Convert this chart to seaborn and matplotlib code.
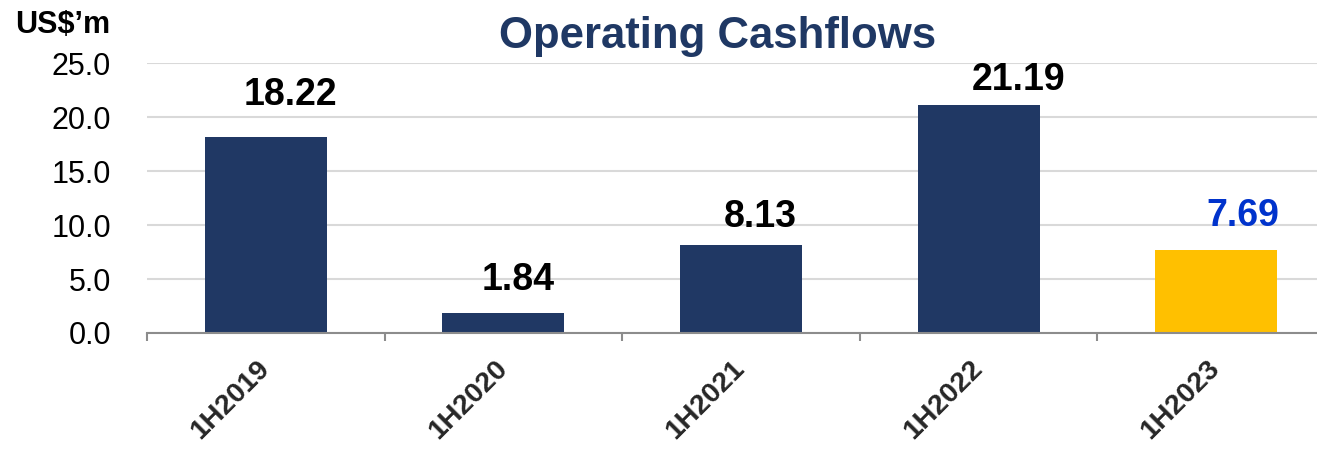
import matplotlib
matplotlib.use("Agg")
import matplotlib.pyplot as plt
import seaborn as sns
import pandas as pd
from matplotlib.ticker import FixedLocator

# ---- data ----
periods = ["1H2019", "1H2020", "1H2021", "1H2022", "1H2023"]
cashflows = [18.22, 1.84, 8.13, 21.19, 7.69]
value_labels = ["18.22", "1.84", "8.13", "21.19", "7.69"]
y_ticks = [0, 5, 10, 15, 20, 25]
y_tick_labels = ["0.0", "5.0", "10.0", "15.0", "20.0", "25.0"]
title_text = "Operating Cashflows"
unit_text = "US$’m"

# ---- style / layout ----
NAVY = "#203864"
GOLD = "#FFC000"
LABEL_BLUE = "#0033CC"
bar_colors = [NAVY, NAVY, NAVY, NAVY, GOLD]
label_colors = ["black", "black", "black", "black", LABEL_BLUE]
label_dx_px = [25, 15, 19, 40, 27]
label_dy_px = [32, 23, 18, 15, 24]

sns.set_theme(style="white")
plt.rcParams["font.family"] = ["Liberation Sans", "DejaVu Sans"]

W, H = 1317, 449
fig = plt.figure(figsize=(W / 100, H / 100), dpi=100)
ax = fig.add_axes([147 / W, 116 / H, 1188 / W, 269.5 / H])

df = pd.DataFrame({"period": periods, "value": cashflows})
palette = dict(zip(periods, bar_colors))
sns.barplot(data=df, x="period", y="value", hue="period", palette=palette,
            width=0.513, saturation=1, legend=False, ax=ax, edgecolor="none")

ax.set_xlim(-0.5, len(periods) - 0.5)
ax.set_ylim(y_ticks[0], y_ticks[-1])
ax.set_xlabel("")
ax.set_ylabel("")

ax.set_yticks(y_ticks)
ax.set_yticklabels(y_tick_labels)
ax.yaxis.grid(True, color="#D9D9D9", linewidth=1.5)
ax.xaxis.grid(False)
ax.set_axisbelow(True)

for s in ["left", "top", "right"]:
    ax.spines[s].set_visible(False)
ax.spines["bottom"].set_color("#8C8C8C")
ax.spines["bottom"].set_linewidth(1.5)

ax.tick_params(axis="y", length=0, pad=26, labelsize=22, labelcolor="black")
ax.tick_params(axis="x", which="major", length=0, pad=23)
ax.xaxis.set_minor_locator(FixedLocator([i - 0.5 for i in range(len(periods) + 1)]))
ax.tick_params(axis="x", which="minor", length=6, width=1.5, color="#8C8C8C",
               direction="out", bottom=True)

ax.set_xticks(range(len(periods)))
ax.set_xticklabels(periods, rotation=45, ha="right", va="center",
                   rotation_mode="anchor", fontsize=20.5, fontweight="bold")

for i, (v, t) in enumerate(zip(cashflows, value_labels)):
    ax.annotate(t, xy=(i, v), xytext=(label_dx_px[i] * 0.72, label_dy_px[i] * 0.72),
                textcoords="offset points", ha="center", va="baseline",
                fontsize=27, fontweight="bold", color=label_colors[i])

fig.text(718 / W, 1 - 48 / H, title_text, ha="center", va="baseline",
         fontsize=31.5, fontweight="bold", color="#1F3864")
fig.text(15 / W, 1 - 33 / H, unit_text, ha="left", va="baseline",
         fontsize=22, fontweight="bold", color="black")

fig.savefig("out.png", dpi=100)
